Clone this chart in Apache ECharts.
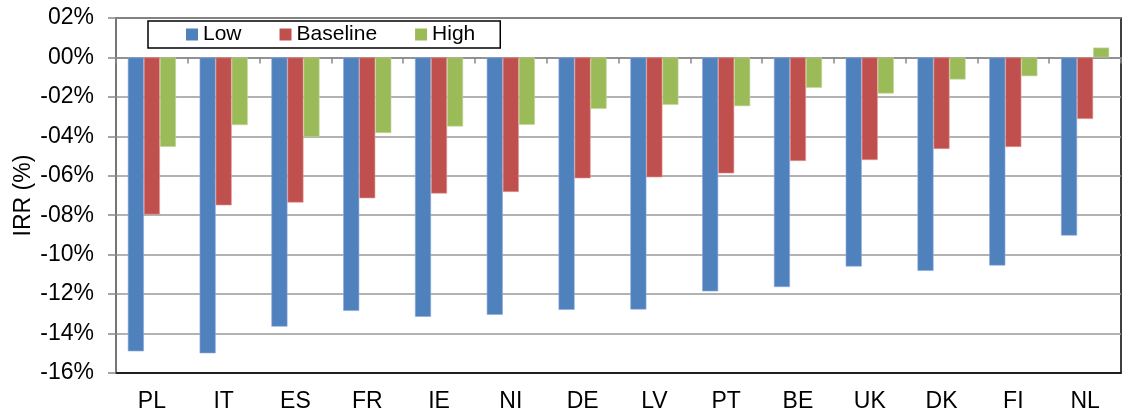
<!DOCTYPE html>
<html>
<head>
<meta charset="utf-8">
<script src="https://cdn.jsdelivr.net/npm/echarts@6/dist/echarts.min.js"></script>
<style>html,body{margin:0;padding:0;background:#fff;}#c{width:1132px;height:418px;}</style>
</head>
<body>
<div id="c"></div>
<script>
const categories = ['PL','IT','ES','FR','IE','NI','DE','LV','PT','BE','UK','DK','FI','NL'];
const lowValues = [-14.9, -15.0, -13.65, -12.85, -13.15, -13.05, -12.8, -12.78, -11.86, -11.64, -10.6, -10.82, -10.55, -9.03];
const baselineValues = [-7.96, -7.5, -7.36, -7.14, -6.9, -6.82, -6.13, -6.08, -5.88, -5.25, -5.2, -4.64, -4.54, -3.12];
const highValues = [-4.53, -3.43, -4.03, -3.83, -3.5, -3.42, -2.61, -2.4, -2.47, -1.54, -1.83, -1.12, -0.95, 0.5];
const seriesNames = ['Low', 'Baseline', 'High'];
const colors = ['#4F81BD', '#C0504D', '#9BBB59'];
const borderColors = ['#8EAADB', '#E39A98', '#C3D79B'];

function fmt(v) {
  const a = Math.abs(Math.round(v));
  const s = (a < 10 ? '0' : '') + a + '%';
  return (v < 0 ? '-' : '') + s;
}

const chart = echarts.init(document.getElementById('c'));
const font = 'Liberation Sans, Arial, sans-serif';
const dataSets = [lowValues, baselineValues, highValues];
chart.setOption({
  animation: false,
  color: colors,
  textStyle: { fontFamily: font },
  grid: { left: 116, right: 11, top: 18, bottom: 45, show: true, borderColor: '#000', borderWidth: 1.5, backgroundColor: 'transparent' },
  legend: {
    data: seriesNames,
    left: 148, top: 21,
    padding: [3, 25, 3, 38],
    borderColor: '#000', borderWidth: 1.5, backgroundColor: '#fff',
    itemWidth: 12, itemHeight: 12, itemGap: 38,
    icon: 'rect',
    itemStyle: { borderWidth: 0 },
    textStyle: { fontSize: 21, color: '#000', fontFamily: font }
  },
  xAxis: [
    {
      type: 'category', data: categories,
      axisLine: { onZero: true, lineStyle: { color: '#888', width: 1.5 } },
      axisTick: { show: true, alignWithLabel: false, length: 6, inside: false, lineStyle: { color: '#888', width: 1.5 } },
      axisLabel: { show: false },
      splitLine: { show: false }
    },
    {
      type: 'category', data: categories, position: 'bottom',
      axisLine: { onZero: false, lineStyle: { color: '#000', width: 1.5 } },
      axisTick: { show: false },
      axisLabel: { show: true, fontSize: 23, color: '#000', margin: 17, fontFamily: font },
      splitLine: { show: false }
    }
  ],
  yAxis: {
    type: 'value', min: -16, max: 2, interval: 2,
    name: 'IRR (%)', nameLocation: 'middle', nameGap: 81, nameRotate: 90,
    nameMoveOverlap: false,
    nameTextStyle: { fontSize: 23, color: '#000', fontFamily: font },
    axisLine: { show: true, lineStyle: { color: '#888', width: 1.5 } },
    axisTick: { show: true, length: 8, lineStyle: { color: '#888', width: 1.5 } },
    axisLabel: { fontSize: 23, color: '#000', margin: 22, formatter: fmt, fontFamily: font },
    splitLine: { show: true, lineStyle: { color: '#999', width: 1.5 } }
  },
  series: seriesNames.map((n, i) => ({
    name: n, type: 'bar', xAxisIndex: 0, data: dataSets[i],
    barGap: '0%', barCategoryGap: '33%',
    itemStyle: { color: colors[i], borderColor: borderColors[i], borderWidth: 0.6 }
  }))
});
</script>
</body>
</html>
